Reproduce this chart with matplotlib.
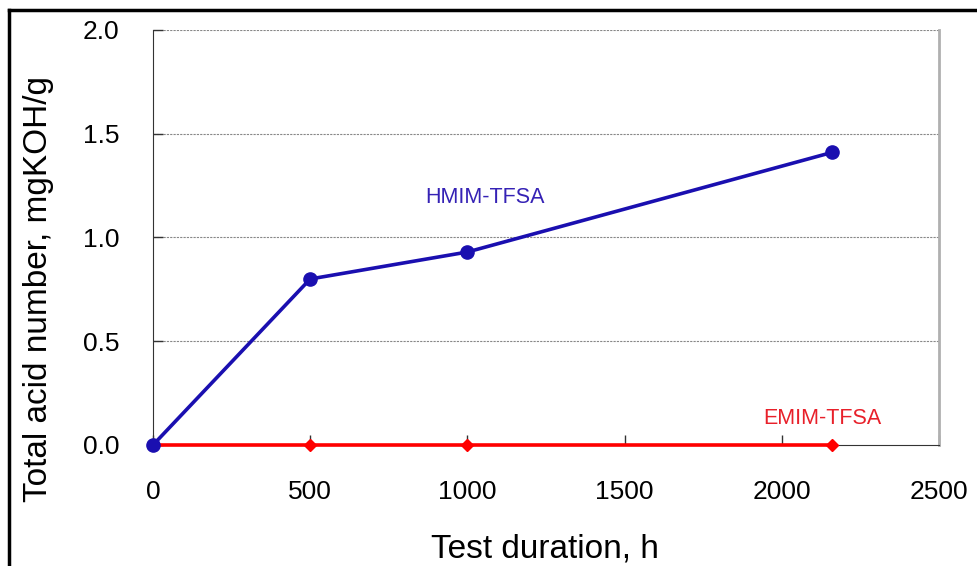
import matplotlib
matplotlib.use("Agg")
import matplotlib.pyplot as plt
from matplotlib.lines import Line2D

plt.rcParams['font.family'] = ['Liberation Sans', 'DejaVu Sans']

# data
hours = [0, 500, 1000, 2160]
hmim_tan = [0.0, 0.80, 0.93, 1.41]
emim_tan = [0.0, 0.0, 0.0, 0.0]
xticks = [0, 500, 1000, 1500, 2000, 2500]
yticks = [0.0, 0.5, 1.0, 1.5, 2.0]

fig = plt.figure(figsize=(9.77, 5.66), dpi=100)
ax = fig.add_axes([0.1566, 0.2138, 0.8044, 0.7332])

#grid first so the lines sit on top
for yv in yticks[1:]:
    ax.axhline(yv, color="#888888", lw=0.8, ls=(0, (2, 1)), zorder=1)

ax.plot(hours, emim_tan, color="#ff0000", lw=2.6, marker="D", ms=6.5,
        zorder=3, clip_on=False)
ax.plot(hours, hmim_tan, color="#1a0fb0", lw=2.6, marker="o", ms=9.5,
        zorder=4, clip_on=False)

ax.text(1056, 1.195, "HMIM-TFSA", color="#3522b5", fontsize=15.5,
        ha="center", va="center")
ax.text(2128, 0.13, "EMIM-TFSA", color="#e8202a", fontsize=15.5,
        ha="center", va="center")

ax.set_xlim(0, 2500)
ax.set_ylim(0, 2.0)
ax.set_xticks(xticks)
ax.set_yticks(yticks)
ax.set_yticklabels(["%.1f" % v for v in yticks])
ax.tick_params(axis="both", direction="in", length=7, width=1,
               color="#333333", labelsize=19)
ax.tick_params(axis="y", pad=24)
ax.tick_params(axis="x", pad=25)

ax.spines["left"].set_color("#333333")
ax.spines["bottom"].set_color("#333333")
ax.spines["top"].set_visible(False)
ax.spines["right"].set_color("#b0b0b0")
ax.spines["right"].set_linewidth(2)

fig.text(545/977, 1-549/566, "Test duration, h", fontsize=24,
         ha="center", va="center")
fig.text(39/977, 1-289/566, "Total acid number, mgKOH/g", fontsize=24,
         rotation=90, ha="center", va="center")

# outer frame (top and left edges visible)
fig.add_artist(Line2D([9/977, 1], [1-10/566, 1-10/566], color="black", lw=2.5,
                      transform=fig.transFigure))
fig.add_artist(Line2D([9/977, 9/977], [0, 1-10/566], color="black", lw=2.5,
                      transform=fig.transFigure))

fig.savefig("out.png", dpi=100)
